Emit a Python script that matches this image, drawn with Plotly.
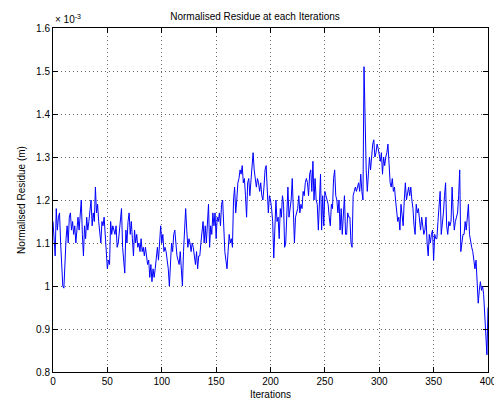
import plotly.graph_objects as go

# Normalised residue values, in units of 1e-3 m, one per iteration (0..400)
residue_e3 = [
    1.15, 1.10, 1.07, 1.18, 1.13, 1.16, 1.17, 1.10, 1.06, 1.00,
    0.995, 1.06, 1.11, 1.14, 1.10, 1.16, 1.17, 1.13, 1.15, 1.12,
    1.14, 1.10, 1.14, 1.16, 1.13, 1.18, 1.20, 1.12, 1.07, 1.14,
    1.11, 1.16, 1.13, 1.15, 1.18, 1.20, 1.14, 1.17, 1.15, 1.23,
    1.17, 1.19, 1.15, 1.12, 1.10, 1.15, 1.14, 1.16, 1.12, 1.08,
    1.04, 1.06, 1.05, 1.15, 1.12, 1.14, 1.13, 1.12, 1.14, 1.09,
    1.10, 1.13, 1.16, 1.18, 1.09, 1.05, 1.03, 1.13, 1.10, 1.15,
    1.17, 1.12, 1.15, 1.11, 1.07, 1.13, 1.10, 1.12, 1.09, 1.10,
    1.08, 1.11, 1.08, 1.09, 1.07, 1.09, 1.06, 1.05, 1.06, 1.02,
    1.05, 1.01, 1.04, 1.02, 1.04, 1.07, 1.09, 1.06, 1.10, 1.14,
    1.10, 1.12, 1.08, 1.09, 1.08, 1.06, 1.04, 1.00, 1.07, 1.10,
    1.08, 1.12, 1.13, 1.09, 1.07, 1.06, 1.05, 1.08, 1.02, 1.00,
    1.08, 1.12, 1.18, 1.13, 1.09, 1.11, 1.10, 1.08, 1.10, 1.09,
    1.07, 1.05, 1.08, 1.04, 1.07, 1.07, 1.10, 1.13, 1.15, 1.10,
    1.14, 1.10, 1.16, 1.19, 1.09, 1.14, 1.12, 1.17, 1.14, 1.17,
    1.11, 1.16, 1.15, 1.17, 1.14, 1.19, 1.20, 1.12, 1.08, 1.06,
    1.04, 1.08, 1.12, 1.10, 1.11, 1.09, 1.20, 1.23, 1.17, 1.20,
    1.24, 1.25, 1.27, 1.26, 1.28, 1.24, 1.25, 1.21, 1.16, 1.24,
    1.25, 1.21, 1.25, 1.28, 1.31, 1.27, 1.24, 1.23, 1.25, 1.24,
    1.22, 1.24, 1.21, 1.20, 1.23, 1.27, 1.28, 1.23, 1.17, 1.21,
    1.20, 1.18, 1.15, 1.065, 1.16, 1.20, 1.15, 1.16, 1.11, 1.18,
    1.16, 1.21, 1.19, 1.09, 1.10, 1.15, 1.23, 1.16, 1.18, 1.20,
    1.25, 1.18, 1.10, 1.16, 1.17, 1.18, 1.21, 1.17, 1.19, 1.18,
    1.22, 1.21, 1.24, 1.25, 1.24, 1.21, 1.26, 1.27, 1.22, 1.29,
    1.20, 1.25, 1.20, 1.19, 1.13, 1.21, 1.26, 1.13, 1.21, 1.14,
    1.22, 1.21, 1.20, 1.19, 1.16, 1.14, 1.19, 1.18, 1.25, 1.27,
    1.21, 1.20, 1.17, 1.20, 1.13, 1.18, 1.12, 1.16, 1.21, 1.12,
    1.12, 1.17, 1.16, 1.16, 1.10, 1.09, 1.21, 1.22, 1.23, 1.22,
    1.23, 1.24, 1.22, 1.26, 1.22, 1.20, 1.51, 1.35, 1.27, 1.22,
    1.25, 1.30, 1.27, 1.31, 1.33, 1.34, 1.30, 1.31, 1.33, 1.32,
    1.30, 1.29, 1.31, 1.26, 1.30, 1.28, 1.30, 1.31, 1.33, 1.27,
    1.24, 1.23, 1.25, 1.22, 1.23, 1.20, 1.18, 1.15, 1.16, 1.13,
    1.19, 1.17, 1.14, 1.20, 1.24, 1.20, 1.22, 1.23, 1.21, 1.23,
    1.20, 1.18, 1.14, 1.12, 1.19, 1.17, 1.18, 1.15, 1.13, 1.16,
    1.14, 1.12, 1.13, 1.16, 1.10, 1.07, 1.12, 1.10, 1.12, 1.13,
    1.06, 1.12, 1.11, 1.11, 1.15, 1.20, 1.22, 1.12, 1.14, 1.17,
    1.21, 1.24, 1.14, 1.12, 1.15, 1.14, 1.15, 1.23, 1.17, 1.13,
    1.15, 1.16, 1.17, 1.21, 1.27, 1.08, 1.11, 1.12, 1.12, 1.15,
    1.13, 1.17, 1.19, 1.12, 1.10, 1.09, 1.08, 1.06, 1.04, 1.06,
    1.01, 0.96, 0.99, 1.01, 0.99, 1.00, 0.98, 0.92, 0.89, 0.84,
    0.95,
]
iterations = list(range(len(residue_e3)))

x_ticks = [0, 50, 100, 150, 200, 250, 300, 350, 400]
y_ticks = [0.8, 0.9, 1.0, 1.1, 1.2, 1.3, 1.4, 1.5, 1.6]
y_tick_labels = ["0.8", "0.9", "1", "1.1", "1.2", "1.3", "1.4", "1.5", "1.6"]

FONT = "Liberation Sans, Arial, sans-serif"

# the page body adds an 8px offset, so the figure is sized 8px smaller
W, H = 494, 395

fig = go.Figure()
fig.add_trace(go.Scatter(
    x=iterations, y=residue_e3, mode="lines",
    line=dict(color="rgb(0,0,255)", width=1),
    showlegend=False,
))

axis_common = dict(
    showline=True, linecolor="black", linewidth=1, mirror="ticks",
    ticks="inside", ticklen=5, tickcolor="black", automargin=False,
    showgrid=True, gridcolor="rgba(0,0,0,0.6)", gridwidth=1, griddash="1px,3px",
    zeroline=False, tickfont=dict(family=FONT, size=10, color="black"),
)

fig.update_layout(
    width=W, height=H,
    margin=dict(l=45, r=14, t=20, b=31),
    paper_bgcolor="white", plot_bgcolor="white",
    font=dict(family=FONT, size=10, color="black"),
    title=dict(text="Normalised Residue at each Iterations", x=0.5, xanchor="center",
               y=1 - 8 / H, yanchor="middle", font=dict(size=10, family=FONT)),
    xaxis=dict(range=[0, 400], tickvals=x_ticks, **axis_common,
               title=dict(text="Iterations", standoff=4, font=dict(size=10))),
    yaxis=dict(range=[0.8, 1.6], tickvals=y_ticks, ticktext=y_tick_labels, **axis_common,
               title=dict(text="Normalised Residue (m)", standoff=8, font=dict(size=10))),
    annotations=[dict(
        text="× 10<sup>-3</sup>", xref="paper", yref="paper", x=0, y=1,
        xanchor="left", yanchor="bottom", showarrow=False,
        font=dict(family=FONT, size=10, color="black"), yshift=1,
    )],
)

fig.write_html("out.html")
